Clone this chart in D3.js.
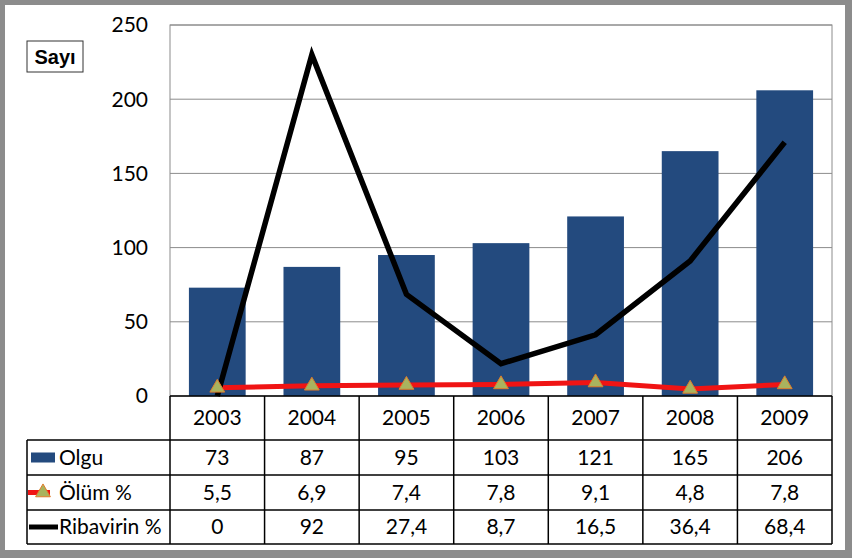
<!DOCTYPE html>
<html>
<head>
<meta charset="utf-8">
<script src="https://cdn.jsdelivr.net/npm/d3@7"></script>
<style>
  body { margin: 0; background: #8c8c8c; }
  text { font-family: Lato, "Open Sans", sans-serif; }
</style>
</head>
<body>
<script>
var width = 852,
    height = 558;

var years = ["2003", "2004", "2005", "2006", "2007", "2008", "2009"];
var olgu = [73, 87, 95, 103, 121, 165, 206];
var olum = [5.5, 6.9, 7.4, 7.8, 9.1, 4.8, 7.8];
var ribavirin = [0, 92, 27.4, 8.7, 16.5, 36.4, 68.4];
var olumLabels = ["5,5", "6,9", "7,4", "7,8", "9,1", "4,8", "7,8"];
var ribLabels = ["0", "92", "27,4", "8,7", "16,5", "36,4", "68,4"];
var yTicks = [0, 50, 100, 150, 200, 250];

var plot = {left: 170, right: 832, top: 25, bottom: 396};
var tableLeft = 27;
var rowY = [396, 440, 475, 510, 544];
var fs = "21px";

var x = d3.scaleBand().domain(years).range([plot.left, plot.right]).paddingInner(0.4).paddingOuter(0.2);
var xCol = d3.scaleBand().domain(years).range([plot.left, plot.right]);
var y = d3.scaleLinear().domain([0, 250]).range([plot.bottom, plot.top]);
// ribavirin sits on a hidden 0-100 secondary axis
var y2 = d3.scaleLinear().domain([0, 100]).range([plot.bottom, plot.top]);

var svg = d3.select("body").append("svg")
    .attr("width", width)
    .attr("height", height);

svg.append("rect")
    .attr("x", 5).attr("y", 5)
    .attr("width", 840).attr("height", 545)
    .attr("fill", "#fff");

// gridlines
svg.append("g")
    .selectAll("line").data(yTicks.slice(1))
  .enter().append("line")
    .attr("x1", plot.left).attr("x2", plot.right)
    .attr("y1", d => y(d)).attr("y2", d => y(d))
    .attr("stroke", "#8c8c8c").attr("stroke-width", 1);

svg.append("rect")
    .attr("x", plot.left).attr("y", plot.top)
    .attr("width", plot.right - plot.left).attr("height", plot.bottom - plot.top)
    .attr("fill", "none").attr("stroke", "#8c8c8c");

// y axis labels
svg.append("g")
    .selectAll("text").data(yTicks)
  .enter().append("text")
    .attr("x", 148).attr("y", d => y(d))
    .attr("dy", "0.35em")
    .attr("text-anchor", "end")
    .style("font-size", fs)
    .text(d => d);

// bars
svg.append("g")
    .selectAll("rect").data(olgu)
  .enter().append("rect")
    .attr("x", (d, i) => x(years[i]))
    .attr("width", x.bandwidth())
    .attr("y", d => y(d))
    .attr("height", d => plot.bottom - y(d))
    .attr("fill", "#234a7e");

var cx = i => xCol(years[i]) + xCol.bandwidth() / 2;

// Ölüm line
svg.append("path")
    .datum(olum)
    .attr("fill", "none")
    .attr("stroke", "#f01414")
    .attr("stroke-width", 5)
    .attr("d", d3.line().x((d, i) => cx(i)).y(d => y(d)));

// Ribavirin line
svg.append("path")
    .datum(ribavirin)
    .attr("fill", "none")
    .attr("stroke", "#000")
    .attr("stroke-width", 5.5)
    .attr("d", d3.line().x((d, i) => cx(i)).y(d => y2(d)));

var tri = d3.symbol().type(d3.symbolTriangle).size(95);

svg.append("g")
    .selectAll("path").data(olum)
  .enter().append("path")
    .attr("transform", (d, i) => "translate(" + cx(i) + "," + y(d) + ")")
    .attr("d", tri)
    .attr("fill", "#a9b35e")
    .attr("stroke", "#e07b2a")
    .attr("stroke-width", 1);

// data table
var table = svg.append("g").attr("stroke", "#000").attr("stroke-width", 1.5);

table.append("line")
    .attr("x1", plot.left).attr("x2", plot.right)
    .attr("y1", rowY[0]).attr("y2", rowY[0]);
rowY.slice(1).forEach(function(ry) {
  table.append("line")
      .attr("x1", tableLeft).attr("x2", plot.right)
      .attr("y1", ry).attr("y2", ry);
});
table.append("line")
    .attr("x1", tableLeft).attr("x2", tableLeft)
    .attr("y1", rowY[1]).attr("y2", rowY[4]);
years.forEach(function(yr) {
  table.append("line")
      .attr("x1", xCol(yr)).attr("x2", xCol(yr))
      .attr("y1", rowY[0]).attr("y2", rowY[4]);
});
table.append("line")
    .attr("x1", plot.right).attr("x2", plot.right)
    .attr("y1", rowY[0]).attr("y2", rowY[4]);

var rows = [years, olgu, olumLabels, ribLabels];
rows.forEach(function(vals, r) {
  svg.append("g")
      .selectAll("text").data(vals)
    .enter().append("text")
      .attr("x", (d, i) => cx(i))
      .attr("y", (rowY[r] + rowY[r + 1]) / 2)
      .attr("dy", "0.35em")
      .attr("text-anchor", "middle")
      .style("font-size", fs)
      .text(d => d);
});

// legend keys in the first column
var names = ["Olgu", "Ölüm %", "Ribavirin %"];
var mid = r => (rowY[r] + rowY[r + 1]) / 2;

svg.append("rect")
    .attr("x", 31).attr("y", mid(1) - 5)
    .attr("width", 24).attr("height", 10)
    .attr("fill", "#234a7e");

svg.append("line")
    .attr("x1", 28).attr("x2", 50)
    .attr("y1", mid(2)).attr("y2", mid(2))
    .attr("stroke", "#f01414").attr("stroke-width", 5);
svg.append("path")
    .attr("transform", "translate(43," + mid(2) + ")")
    .attr("d", tri)
    .attr("fill", "#a9b35e")
    .attr("stroke", "#e07b2a");

svg.append("line")
    .attr("x1", 29).attr("x2", 58)
    .attr("y1", mid(3)).attr("y2", mid(3))
    .attr("stroke", "#000").attr("stroke-width", 5);

svg.append("g")
    .selectAll("text").data(names)
  .enter().append("text")
    .attr("x", 59)
    .attr("y", (d, i) => mid(i + 1))
    .attr("dy", "0.35em")
    .style("font-size", fs)
    .text(d => d);

// Sayı label
svg.append("rect")
    .attr("x", 27).attr("y", 41)
    .attr("width", 56).attr("height", 31)
    .attr("fill", "#fff")
    .attr("stroke", "#333").attr("stroke-width", 1);
svg.append("text")
    .attr("x", 55).attr("y", 57)
    .attr("dy", "0.35em")
    .attr("text-anchor", "middle")
    .style("font-family", "Liberation Sans, Arial, sans-serif")
    .style("font-weight", "bold")
    .style("font-size", "20px")
    .text("Sayı");
</script>
</body>
</html>
